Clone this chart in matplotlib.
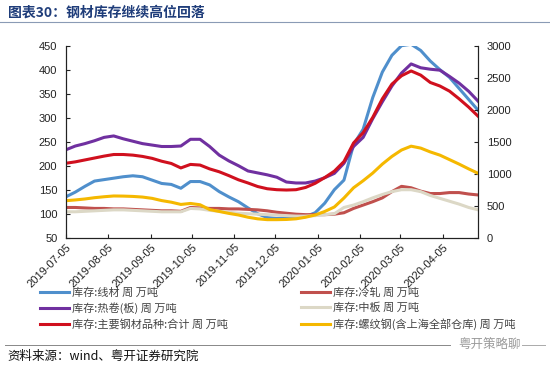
import pandas as pd
import numpy as np
import matplotlib
matplotlib.use("Agg")
import matplotlib.pyplot as plt
import matplotlib.dates as mdates
from matplotlib.lines import Line2D

plt.rcParams["font.family"] = ["Liberation Sans", "Noto Sans CJK SC", "DejaVu Sans"]

# weekly data, 2019-07-05 .. 2020-05-01
dates = pd.date_range("2019-07-05", periods=44, freq="7D")

# left axis (万吨)
wire_rod = [135, 145, 157, 168, 171, 174, 177, 179, 177, 170, 163, 161, 153, 167, 167,
            160, 146, 135, 125, 112, 100, 92, 90, 91, 92, 94, 102, 122, 150, 170,
            244, 276, 342, 395, 430, 450, 453, 440, 418, 400, 384, 361, 338, 315]
hot_coil = [233, 241, 246, 252, 259, 262, 256, 251, 246, 243, 240, 240, 241, 255, 255,
            240, 222, 210, 200, 189, 185, 181, 176, 166, 164, 164, 168, 175, 184, 205,
            240, 259, 298, 333, 366, 393, 412, 404, 401, 399, 386, 372, 355, 334]
cold_roll = [113, 113, 112, 111, 111, 110, 110, 109, 108, 107, 106, 106, 105, 113, 112,
             111, 111, 110, 110, 109, 108, 106, 103, 101, 99, 98, 98, 98, 99, 102,
             111, 118, 125, 133, 146, 157, 154, 147, 142, 142, 144, 144, 141, 139]
plate = [104, 104, 105, 106, 107, 108, 108, 107, 106, 105, 104, 104, 104, 111, 110,
         107, 105, 103, 101, 100, 99, 98, 97, 96, 95, 95, 96, 98, 100, 113,
         118, 125, 133, 140, 146, 150, 150, 146, 138, 132, 126, 120, 113, 108]

# right axis (万吨)
total = [1163, 1185, 1215, 1245, 1275, 1300, 1300, 1290, 1270, 1240, 1195, 1160, 1090, 1145, 1135,
         1075, 1030, 970, 905, 855, 800, 765, 750, 745, 750, 785, 850, 940, 1040, 1190,
         1480, 1640, 1880, 2170, 2400, 2530, 2605, 2540, 2425, 2370, 2290, 2170, 2040, 1895]
rebar = [578, 590, 605, 625, 640, 652, 650, 645, 635, 615, 580, 555, 520, 535, 515,
         440, 410, 380, 355, 320, 295, 282, 282, 285, 295, 320, 355, 410, 480, 620,
         780, 890, 1010, 1150, 1270, 1370, 1430, 1400, 1340, 1290, 1220, 1150, 1075, 1005]

tick_dates = pd.to_datetime(["2019-07-05", "2019-08-05", "2019-09-05", "2019-10-05", "2019-11-05",
                             "2019-12-05", "2020-01-05", "2020-02-05", "2020-03-05", "2020-04-05"])

c_wire = "#4f8fcc"
c_hot = "#7030a0"
c_total = "#d0101e"
c_cold = "#c0504d"
c_plate = "#dcd8c6"
c_rebar = "#f5b800"
lw = 2.2

fig = plt.figure(figsize=(5.5, 3.67), dpi=100)
ax = fig.add_axes([0.1195, 0.3523, 0.8696 - 0.1195, 0.8755 - 0.3523])
ax2 = ax.twinx()

l_wire, = ax.plot(dates, wire_rod, color=c_wire, lw=lw)
l_hot, = ax.plot(dates, hot_coil, color=c_hot, lw=lw)
l_cold, = ax.plot(dates, cold_roll, color=c_cold, lw=lw)
l_plate, = ax.plot(dates, plate, color=c_plate, lw=lw)
l_total, = ax2.plot(dates, total, color=c_total, lw=lw)
l_rebar, = ax2.plot(dates, rebar, color=c_rebar, lw=lw)

ax.set_ylim(50, 450)
ax.set_yticks(np.arange(50, 451, 50))
ax2.set_ylim(0, 3000)
ax2.set_yticks(np.arange(0, 3001, 500))
ax.set_xlim(dates[0], dates[-1])
ax.set_xticks(tick_dates)
ax.xaxis.set_major_formatter(mdates.DateFormatter("%Y-%m-%d"))
plt.setp(ax.get_xticklabels(), rotation=45, ha="right", rotation_mode="anchor")

for a in (ax, ax2):
    a.tick_params(direction="in", length=3, width=0.8, labelsize=8, colors="#222222")
    a.spines["top"].set_visible(False)
    for s in ("left", "right", "bottom"):
        a.spines[s].set_color("#222222")
        a.spines[s].set_linewidth(0.8)
ax.tick_params(axis="y", pad=6)
ax2.tick_params(axis="y", pad=6)
ax.tick_params(axis="x", pad=3)

# legend: two columns
leg_kw = dict(frameon=False, fontsize=8, handlelength=2.6, handletextpad=0.3,
              labelspacing=0.45, borderpad=0, borderaxespad=0, labelcolor="#444444",
              prop={"family": ["Noto Sans CJK SC", "DejaVu Sans"], "size": 8})
leg_kw.pop("fontsize")
fig.legend([l_wire, l_hot, l_total],
           ["库存:线材 周 万吨", "库存:热卷(板) 周 万吨", "库存:主要钢材品种:合计 周 万吨"],
           loc="upper left", bbox_to_anchor=(40 / 550, 1 - 287 / 367), **leg_kw)
fig.legend([l_cold, l_plate, l_rebar],
           ["库存:冷轧 周 万吨", "库存:中板 周 万吨", "库存:螺纹钢(含上海全部仓库) 周 万吨"],
           loc="upper left", bbox_to_anchor=(301 / 550, 1 - 287 / 367), **leg_kw)

# title and decorations
fig.text(8 / 550, 1 - 13 / 367, "图表30：钢材库存继续高位回落", fontsize=10, fontweight="bold",
         color="#1f3d7a", va="center", ha="left", family=["Noto Sans CJK SC", "DejaVu Sans"])
fig.add_artist(Line2D([0, 1], [1 - 21.5 / 367] * 2, color="#8a9bb5", lw=0.8))
fig.add_artist(Line2D([5 / 550, 450 / 550], [1 - 345 / 367] * 2, color="#888888", lw=0.7))
fig.add_artist(Line2D([522 / 550, 545 / 550], [1 - 345 / 367] * 2, color="#aaaaaa", lw=0.7))
fig.text(7 / 550, 1 - 356 / 367, "资料来源：wind、粤开证券研究院", fontsize=9, style="italic",
         color="#111111", va="center", ha="left", family=["Noto Sans CJK SC", "DejaVu Sans"])
fig.text(458 / 550, 1 - 345 / 367, "粤开策略聊", fontsize=9, color="#9a9a9a",
         va="center", ha="left", family=["Noto Sans CJK SC", "DejaVu Sans"])

fig.savefig("out.png", dpi=100)
